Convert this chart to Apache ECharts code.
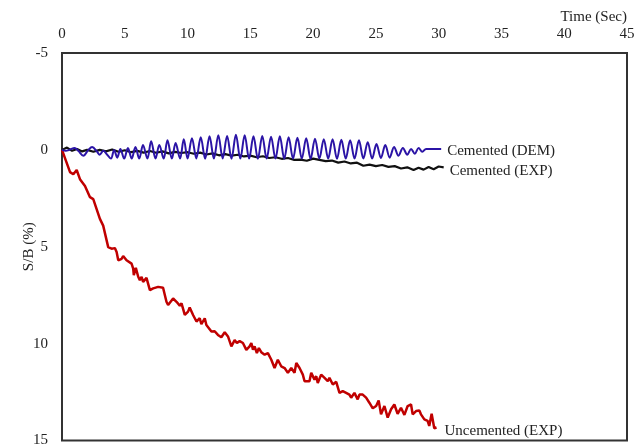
<!DOCTYPE html>
<html>
<head>
<meta charset="utf-8">
<script src="https://cdn.jsdelivr.net/npm/echarts@6/dist/echarts.min.js"></script>
<style>
  html, body { margin: 0; padding: 0; background: #fff; }
  #chart { width: 644px; height: 448px; }
</style>
</head>
<body>
<div id="chart"></div>
<script>
// tick values
const xTicks = [0, 5, 10, 15, 20, 25, 30, 35, 40, 45]
const yTicks = [-5, 0, 5, 10, 15]

// Cemented (DEM) - oscillating simulation curve [time, S/B]
const cementedDem = [
  [0, 0], [0.3, 0.05], [0.6, 0.0], [1.0, -0.1], [1.3, 0.05], [1.7, 0.3], [2.1, 0.0],
  [2.4, -0.15], [2.8, 0.1], [3.0, 0.25], [3.3, 0.05], [3.6, 0.25], [3.9, 0.45],
  [4.15, 0.0], [4.4, 0.4], [4.65, -0.05], [4.95, 0.45], [5.25, -0.1], [5.55, 0.45],
  [5.85, -0.15], [6.15, 0.45], [6.45, -0.25], [6.8, 0.45], [7.1, -0.45], [7.45, 0.45],
  [7.75, -0.25], [8.1, 0.45], [8.4, -0.5], [8.75, 0.45], [9.05, -0.35], [9.4, 0.45],
  [9.7, -0.55], [10.0, 0.45], [10.35, -0.6], [10.7, 0.44], [11.05, -0.65], [11.4, 0.46],
  [11.75, -0.7], [12.1, 0.45], [12.45, -0.75], [12.8, 0.44], [13.15, -0.72], [13.5, 0.46],
  [13.85, -0.78], [14.2, 0.45], [14.55, -0.75], [14.9, 0.45], [15.25, -0.7], [15.6, 0.46],
  [15.95, -0.72], [16.3, 0.45], [16.65, -0.68], [17.0, 0.45], [17.35, -0.7], [17.7, 0.46],
  [18.05, -0.65], [18.4, 0.45], [18.75, -0.62], [19.1, 0.45], [19.45, -0.6], [19.8, 0.46],
  [20.15, -0.58], [20.5, 0.45], [20.85, -0.55], [21.2, 0.45], [21.55, -0.55], [21.9, 0.46],
  [22.25, -0.52], [22.6, 0.45], [22.95, -0.5], [23.3, 0.45], [23.65, -0.5], [24.0, 0.45],
  [24.35, -0.4], [24.7, 0.45], [25.05, -0.3], [25.4, 0.42], [25.75, -0.25], [26.1, 0.4],
  [26.45, -0.15], [26.8, 0.3], [27.15, -0.1], [27.5, 0.25], [27.8, -0.05], [28.1, 0.2],
  [28.4, -0.1], [28.7, 0.1], [29.0, -0.05], [29.5, -0.05], [30.2, -0.05]
]

// Cemented (EXP)
const cementedExp = [
  [0, 0], [0.4, -0.12], [0.8, 0.05], [1.2, -0.05], [1.6, 0.08], [2.0, 0.0], [2.5, 0.1],
  [3.0, 0.0], [3.5, 0.08], [4.0, -0.02], [4.5, 0.1], [5.0, 0.02], [5.5, 0.12], [6.0, 0.05],
  [6.5, 0.14], [7.0, 0.06], [7.5, 0.15], [8.0, 0.08], [8.5, 0.18], [9.0, 0.1],
  [9.5, 0.16], [10.0, 0.12], [10.5, 0.2], [11.0, 0.14], [11.5, 0.24], [12.0, 0.18],
  [12.5, 0.28], [13.0, 0.22], [13.5, 0.3], [14.0, 0.25], [14.5, 0.34], [15.0, 0.3],
  [15.5, 0.38], [16.0, 0.33], [16.5, 0.42], [17.0, 0.38], [17.5, 0.46], [18.0, 0.42],
  [18.5, 0.52], [19.0, 0.5], [19.5, 0.56], [20.0, 0.45], [20.5, 0.52], [21.0, 0.58],
  [21.5, 0.55], [22.0, 0.66], [22.5, 0.6], [23.0, 0.7], [23.5, 0.66], [24.0, 0.82],
  [24.5, 0.76], [25.0, 0.84], [25.5, 0.78], [26.0, 0.88], [26.5, 0.84], [27.0, 0.96],
  [27.5, 0.9], [28.0, 1.04], [28.4, 0.92], [28.8, 1.02], [29.2, 0.88], [29.6, 1.0],
  [30.0, 0.86], [30.4, 0.9]
]

// Uncemented (EXP)
const uncementedExp = [
  [0, 0], [0.64, 1.15], [0.9, 1.26], [1.17, 1.04], [1.43, 1.51], [1.83, 1.86], [2.23, 2.44],
  [2.49, 2.54], [3.02, 3.56], [3.28, 3.91], [3.68, 5.02], [3.95, 5.1], [4.21, 5.07],
  [4.35, 5.27], [4.48, 5.7], [4.75, 5.62], [4.87, 5.48], [5.14, 5.7], [5.54, 5.87],
  [5.67, 6.13], [5.72, 6.47], [5.88, 6.09], [6.07, 6.55], [6.2, 6.72], [6.34, 6.55],
  [6.46, 6.81], [6.73, 6.61], [7.0, 7.24], [7.26, 7.15], [7.66, 7.07], [8.05, 7.12],
  [8.32, 7.84], [8.45, 8.01], [8.85, 7.67], [9.12, 7.84], [9.38, 8.04], [9.52, 7.92],
  [9.78, 8.52], [10.04, 8.35], [10.17, 8.14], [10.44, 8.52], [10.71, 8.86], [10.97, 8.69],
  [11.1, 9.0], [11.37, 8.69], [11.5, 9.04], [11.9, 9.37], [12.16, 9.36], [12.42, 9.55],
  [12.69, 9.67], [12.96, 9.41], [13.22, 9.63], [13.49, 10.14], [13.75, 9.82], [13.93, 9.97],
  [14.15, 9.87], [14.41, 9.97], [14.68, 10.32], [14.94, 10.14], [15.08, 9.97], [15.21, 10.32],
  [15.34, 10.14], [15.52, 10.49], [15.68, 10.23], [15.87, 10.44], [16.14, 10.57], [16.4, 10.49],
  [16.67, 10.83], [16.93, 11.26], [17.19, 10.83], [17.46, 11.17], [17.73, 11.26], [17.99, 11.51],
  [18.26, 11.26], [18.52, 11.51], [18.66, 11.0], [18.92, 11.26], [19.18, 11.6], [19.32, 11.94],
  [19.71, 11.94], [19.85, 11.51], [20.11, 11.86], [20.25, 11.68], [20.37, 12.03], [20.64, 11.6],
  [20.91, 11.77], [21.17, 11.94], [21.3, 11.77], [21.57, 12.11], [21.84, 11.97], [22.1, 12.54],
  [22.36, 12.45], [22.63, 12.54], [22.89, 12.63], [23.03, 12.79], [23.29, 12.54], [23.55, 12.88],
  [23.69, 12.63], [23.95, 12.63], [24.22, 12.79], [24.48, 13.05], [24.75, 13.34], [25.02, 13.22],
  [25.22, 12.93], [25.41, 13.65], [25.68, 13.22], [25.94, 13.82], [26.21, 13.39], [26.47, 13.14],
  [26.73, 13.62], [27.0, 13.31], [27.27, 13.68], [27.53, 13.22], [27.8, 13.14], [27.93, 13.65],
  [28.2, 13.48], [28.46, 13.45], [28.59, 13.65], [28.86, 13.91], [29.12, 13.99], [29.25, 14.25],
  [29.44, 13.62], [29.65, 14.37], [29.83, 14.33]
]

const font = 'Liberation Serif'
const textColor = '#222'

const chart = echarts.init(document.getElementById('chart'))

function lineSeries (name, data, color, width, smooth, labelOffset) {
  return {
    name: name,
    type: 'line',
    data: data,
    showSymbol: false,
    smooth: smooth,
    animation: false,
    lineStyle: { color: color, width: width },
    endLabel: {
      show: true,
      formatter: name,
      distance: 6,
      offset: labelOffset,
      color: textColor,
      fontFamily: font,
      fontSize: 15
    }
  }
}

chart.setOption({
  animation: false,
  title: {
    text: 'Time (Sec)',
    right: 12,
    top: 5,
    textStyle: { fontFamily: font, fontSize: 15, fontWeight: 'normal', color: textColor }
  },
  grid: {
    left: 62,
    right: 17,
    top: 53,
    bottom: 5,
    show: true,
    borderColor: '#333',
    borderWidth: 2,
    backgroundColor: 'transparent'
  },
  xAxis: {
    type: 'value',
    position: 'top',
    min: xTicks[0],
    max: xTicks[xTicks.length - 1],
    interval: xTicks[1] - xTicks[0],
    axisLine: { show: false },
    axisTick: { show: false },
    splitLine: { show: false },
    axisLabel: { margin: 11, color: textColor, fontFamily: font, fontSize: 15 }
  },
  yAxis: {
    type: 'value',
    inverse: true,
    min: yTicks[0],
    max: yTicks[yTicks.length - 1],
    interval: yTicks[1] - yTicks[0],
    name: 'S/B (%)',
    nameLocation: 'middle',
    nameGap: 25,
    nameMoveOverlap: false,
    nameTextStyle: { color: textColor, fontFamily: font, fontSize: 15 },
    axisLine: { show: false },
    axisTick: { show: false },
    splitLine: { show: false },
    axisLabel: { margin: 14, color: textColor, fontFamily: font, fontSize: 15 }
  },
  series: [
    lineSeries('Uncemented (EXP)', uncementedExp, '#c00000', 2.5, false, [2, 4]),
    lineSeries('Cemented (EXP)', cementedExp, '#111111', 2.2, false, [0, 4]),
    lineSeries('Cemented (DEM)', cementedDem, '#2b14a6', 2, 0.35, [0, 2])
  ]
})
</script>
</body>
</html>
